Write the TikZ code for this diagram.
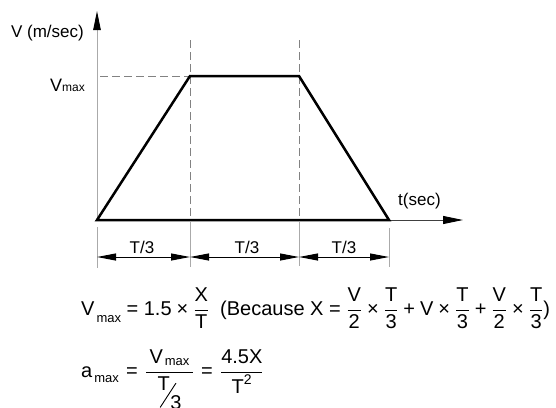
\RequirePackage{fix-cm}
\documentclass[tikz,border=0pt]{standalone}
\usepackage{amsmath}
\usepackage{graphicx}
\usepackage{fontspec}
\setmainfont{Liberation Sans}
\usetikzlibrary{arrows.meta}
\newcommand{\ttx}[1]{\text{#1}}
\newcommand{\eqs}{\mathrel{\ttx{=}}}
\newcommand{\pls}{\mathbin{\ttx{+}}}
\newcommand{\tms}{\mathbin{\ttx{×}}}
\newcommand{\submax}[1]{\ttx{\kern2pt\raisebox{#1}{\fontsize{13}{15}\selectfont max}}}
\newcommand{\slT}{\ttx{T\kern-10pt\raisebox{-17pt}{\rotatebox{57}{\rule{29pt}{0.9pt}}}\kern-6pt\raisebox{-19pt}{3}}}
\definecolor{axisgray}{RGB}{170,170,170}
\definecolor{dashgray}{RGB}{130,130,130}
\tikzset{
  curve/.style={line width=2.5pt, line join=miter, black},
  axisline/.style={line width=0.9pt, axisgray},
  taxis/.style={line width=0.9pt, black!75},
  guide/.style={line width=0.9pt, dashgray, dash pattern=on 8pt off 4pt},
  extline/.style={line width=0.9pt, axisgray},
  dimline/.style={line width=1pt, black, {Triangle[length=19pt,width=7pt]}-{Triangle[length=19pt,width=7pt]}},
  lbl/.style={inner sep=0pt, font=\fontsize{17}{20}\selectfont},
  formula/.style={inner sep=0pt, font=\fontsize{20}{24}\selectfont},
}
\begin{document}
\begin{tikzpicture}[x=1pt,y=-1pt]
\useasboundingbox (0,0) rectangle (556,407);
% key points
\coordinate (O) at (97,220);
\coordinate (A) at (190,76);
\coordinate (B) at (299,76);
\coordinate (C) at (389,220);
\coordinate (Ytop) at (97,11);
\coordinate (Tend) at (463,220);
\coordinate (VL) at (100,76);
\coordinate (At) at (190,40);
\coordinate (Bt) at (299,40);
\coordinate (Ab) at (190,220);
\coordinate (Bb) at (299,220);
% extension lines
\coordinate (e0a) at (97,227);  \coordinate (e0b) at (97,268);
\coordinate (e1a) at (190,222); \coordinate (e1b) at (190,267);
\coordinate (e2a) at (299,222); \coordinate (e2b) at (299,266);
\coordinate (e3a) at (389,228); \coordinate (e3b) at (389,267);
\coordinate (d0) at (97,257);
\coordinate (d1) at (190,257);
\coordinate (d2) at (299,257);
\coordinate (d3) at (389,257);
% axes
\draw[axisline, -{Triangle[length=19pt,width=7.5pt,black]}] (O) -- (Ytop);
\draw[taxis, -{Triangle[length=20pt,width=8pt,black]}] (C) -- (Tend);
% guides
\draw[guide] (VL) -- (A);
\draw[guide] (At) -- (Ab);
\draw[guide] (Bt) -- (Bb);
% curve
\draw[curve] (C) -- (O) -- (A) -- (B) -- (C) -- cycle;
% extension lines
\draw[extline] (e0a) -- (e0b);
\draw[extline] (e1a) -- (e1b);
\draw[extline] (e2a) -- (e2b);
\draw[extline] (e3a) -- (e3b);
% dimension arrows
\draw[dimline] (d0) -- (d1);
\draw[dimline] (d1) -- (d2);
\draw[dimline] (d2) -- (d3);
% labels
\node[lbl, anchor=base east] (vlabel) at (84,37) {V (m/sec)};
\node[lbl, anchor=base east] (vmax) at (85,91) {{\fontsize{18}{20}\selectfont V}{\fontsize{12}{14}\selectfont max}};
\node[lbl, anchor=base west] (tlabel) at (398,205) {t(sec)};
\node[lbl, anchor=base] (t1) at (142,253) {T/3};
\node[lbl, anchor=base] (t2) at (247,253) {T/3};
\node[lbl, anchor=base] (t3) at (344,253) {T/3};
% formulas
\node[formula, anchor=base west] (eq1) at (81,315) {$\medmuskip=4.5mu\relax \ttx{V}\submax{-7pt} \eqs \ttx{1.5}\tms\dfrac{\ttx{X}}{\ttx{T}}\;\;\ttx{(Because X} \eqs \dfrac{\ttx{V}}{\ttx{2}}\tms\dfrac{\ttx{T}}{\ttx{3}} \pls \ttx{V}\tms\dfrac{\ttx{T}}{\ttx{3}} \pls \dfrac{\ttx{V}}{\ttx{2}}\tms\dfrac{\ttx{T}}{\ttx{3}}\ttx{)}$};
\node[formula, anchor=base west] (eq2) at (81,377) {$\thickmuskip=6.5mu\relax \ttx{a}\submax{-5pt} \eqs \dfrac{\,\ttx{V}\submax{-2pt}\,}{\slT} \eqs \dfrac{\ttx{4.5X}}{\ttx{T}^{\ttx{2}}}$};
\end{tikzpicture}
\end{document}
